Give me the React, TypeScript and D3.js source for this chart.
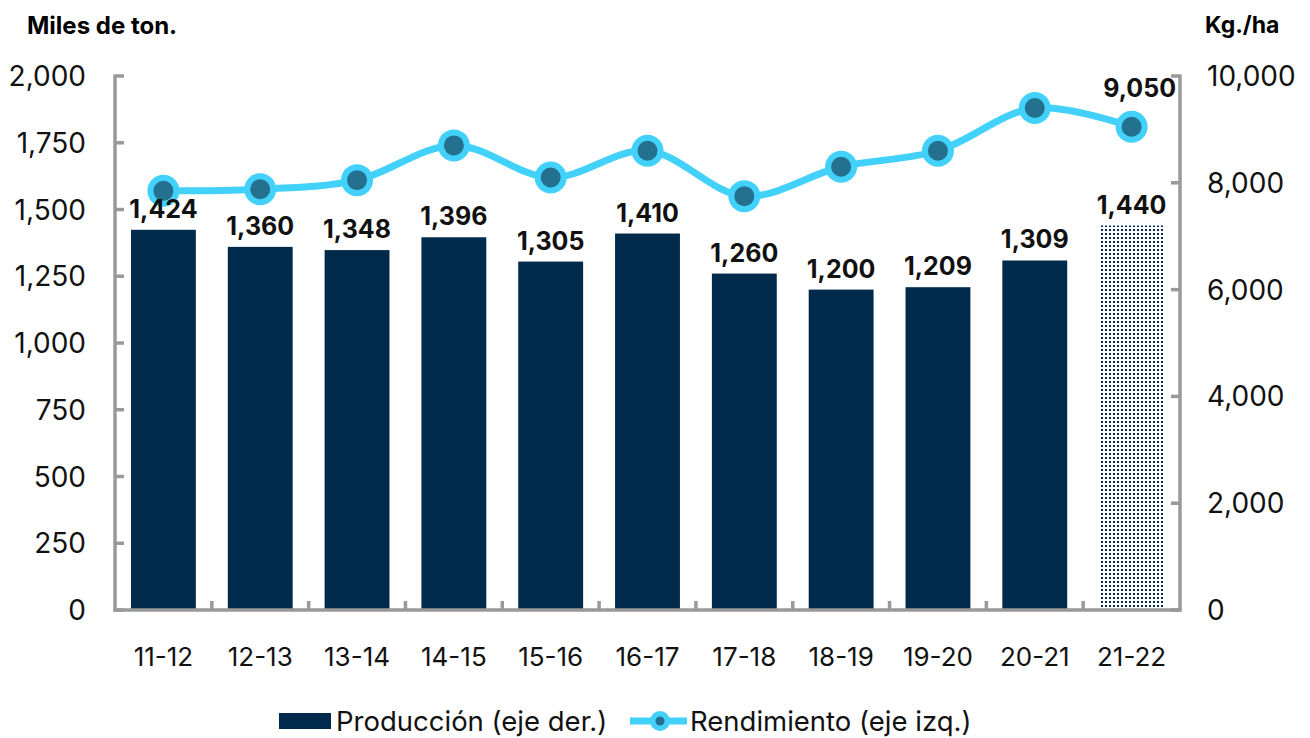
import React from "react";
import * as d3 from "d3";

const categories = ["11-12", "12-13", "13-14", "14-15", "15-16", "16-17", "17-18", "18-19", "19-20", "20-21", "21-22"];
const produccion = [1424, 1360, 1348, 1396, 1305, 1410, 1260, 1200, 1209, 1309, 1440];
const rendimiento = [7850, 7880, 8050, 8700, 8100, 8600, 7750, 8300, 8600, 9400, 9050];
const leftTicks = [0, 250, 500, 750, 1000, 1250, 1500, 1750, 2000];
const rightTicks = [0, 2000, 4000, 6000, 8000, 10000];

const W = 1310;
const H = 738;
const x0 = 115;
const x1 = 1180;
const yTop = 76;
const yBot = 610;
const NAVY = "#002A4B";
const CYAN = "#42D1FA";
const TEAL = "#23708F";
const AXIS = "#999999";
const FONT = "Inter, 'Open Sans', sans-serif";

export default function App() {
  const x = d3.scaleBand<string>().domain(categories).range([x0, x1]).paddingInner(0.33).paddingOuter(0.165);
  const xs = d3.scaleBand<string>().domain(categories).range([x0, x1]);
  const yL = d3.scaleLinear().domain([0, 2000]).range([yBot, yTop]);
  const yR = d3.scaleLinear().domain([0, 10000]).range([yBot, yTop]);
  const cx = (c: string) => (xs(c) as number) + xs.bandwidth() / 2;

  const line = d3
    .line<number>()
    .x((_, i) => cx(categories[i]))
    .y((d) => yR(d))
    .curve(d3.curveCatmullRom.alpha(0.5));

  const fmt = d3.format(",");
  const last = categories.length - 1;

  return (
    <svg width={W} height={H} style={{ position: "absolute", left: 0, top: 0, fontFamily: FONT }}>
      <defs>
        <pattern id="dots" width={4} height={4} patternUnits="userSpaceOnUse">
          <rect width={4} height={4} fill="#ffffff" />
          <rect x={1} y={1} width={2} height={2} fill={NAVY} />
        </pattern>
      </defs>
      <rect width={W} height={H} fill="#ffffff" />

      {/* axis titles */}
      <text x={27} y={25} dy="0.36em" fontSize={24} fontWeight={700} fill="#000">Miles de ton.</text>
      <text x={1205} y={25} dy="0.36em" fontSize={23} fontWeight={700} fill="#000">Kg./ha</text>

      {/* bars */}
      {categories.map((c, i) => (
        <rect
          key={c}
          x={x(c)}
          y={yL(produccion[i])}
          width={x.bandwidth()}
          height={yBot - yL(produccion[i])}
          fill={i === last ? "url(#dots)" : NAVY}
        />
      ))}

      {/* left axis */}
      <line x1={x0} x2={x0} y1={yTop - 1.5} y2={yBot + 1.5} stroke={AXIS} strokeWidth={3.5} />
      {leftTicks.map((t) => (
        <g key={"l" + t}>
          <line x1={x0} x2={x0 + 9} y1={yL(t)} y2={yL(t)} stroke={AXIS} strokeWidth={3.5} />
          <text x={86} y={yL(t)} dy="0.36em" textAnchor="end" fontSize={28} fill="#111">{fmt(t)}</text>
        </g>
      ))}

      {/* right axis */}
      <line x1={x1} x2={x1} y1={yTop - 1.5} y2={yBot + 1.5} stroke={AXIS} strokeWidth={3.5} />
      {rightTicks.map((t) => (
        <g key={"r" + t}>
          <line x1={x1 - 9} x2={x1} y1={yR(t)} y2={yR(t)} stroke={AXIS} strokeWidth={3.5} />
          <text x={1207} y={yR(t)} dy="0.36em" textAnchor="start" fontSize={28} fill="#111">{fmt(t)}</text>
        </g>
      ))}

      {/* bottom axis */}
      <line x1={x0 - 1.5} x2={x1 + 1.5} y1={yBot} y2={yBot} stroke={AXIS} strokeWidth={3.5} />
      {categories.slice(1).map((c) => (
        <line key={"bt" + c} x1={xs(c)} x2={xs(c)} y1={yBot} y2={yBot - 9} stroke={AXIS} strokeWidth={3.5} />
      ))}
      {categories.map((c) => (
        <text key={"xl" + c} x={cx(c)} y={657} dy="0.36em" textAnchor="middle" fontSize={26} fill="#111">{c}</text>
      ))}

      {/* line */}
      <path d={line(rendimiento) || ""} fill="none" stroke={CYAN} strokeWidth={7} />
      {categories.map((c, i) => (
        <g key={"m" + c}>
          <circle cx={cx(c)} cy={yR(rendimiento[i])} r={16} fill={CYAN} />
          <circle cx={cx(c)} cy={yR(rendimiento[i])} r={10} fill={TEAL} />
        </g>
      ))}

      {/* bar labels */}
      {categories.map((c, i) => (
        <text key={"bl" + c} x={cx(c)} y={yL(produccion[i]) - 21} dy="0.36em" textAnchor="middle" fontSize={25} fontWeight={700} fill="#111">
          {fmt(produccion[i])}
        </text>
      ))}
      <text x={cx(categories[last]) + 8} y={yR(rendimiento[last]) - 39} dy="0.36em" textAnchor="middle" fontSize={25} fontWeight={700} fill="#111">
        {fmt(rendimiento[last])}
      </text>

      {/* legend */}
      <rect x={279} y={713} width={52} height={16} fill={NAVY} />
      <text x={336} y={721} dy="0.36em" fontSize={27.5} fill="#111">Producción (eje der.)</text>
      <line x1={630} x2={687} y1={721} y2={721} stroke={CYAN} strokeWidth={7} />
      <circle cx={660} cy={721} r={10} fill={CYAN} />
      <circle cx={660} cy={721} r={4.5} fill={TEAL} />
      <text x={690} y={721} dy="0.36em" fontSize={27.5} fill="#111">Rendimiento (eje izq.)</text>
    </svg>
  );
}
